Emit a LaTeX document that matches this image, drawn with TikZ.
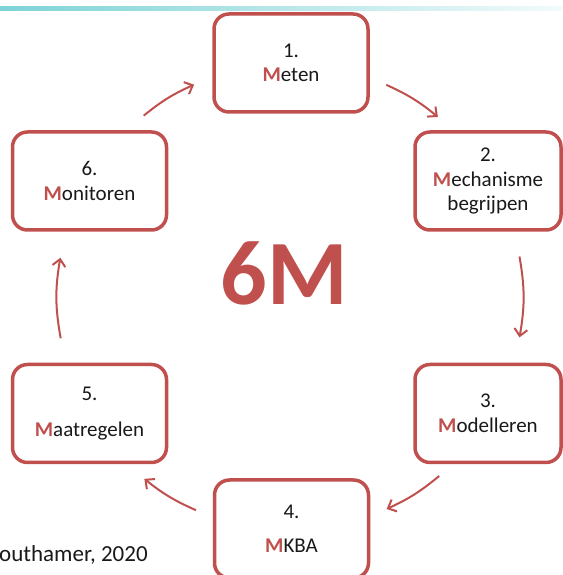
\documentclass[tikz,border=0pt]{standalone}
\usepackage{fontspec}
\setmainfont{Carlito}
\usetikzlibrary{arrows.meta}
\definecolor{accent}{HTML}{C0504D}
\definecolor{barteal}{HTML}{7DD3D6}
\newcommand\redM{\textcolor{accent}{\bfseries M}}
\begin{document}
\begin{tikzpicture}[x=1pt,y=1pt,
  stage/.style={draw=accent, line width=3.5pt, rounded corners=15pt, fill=white,
    minimum width=154pt, minimum height=98pt, align=center, inner sep=0pt,
    font=\fontsize{21}{24.5}\selectfont, text=black!90},
  cyc/.style={draw=accent, line width=2pt,
    -{Straight Barb[length=7pt,width=13pt,line width=2pt]}}]
\useasboundingbox (0,0) rectangle (562,575);
\shade[left color=barteal, right color=barteal!10] (0,564) rectangle (562,568);
% stages
\node[stage] (m1) at (291,512) {1.\\\redM eten};
\node[stage, minimum width=146pt] (m2) at (488,394) {2.\\\redM echanisme\\begrijpen};
\node[stage, minimum width=146pt] (m3) at (488,161.5) {3.\\\redM odelleren};
\node[stage] (m4) at (291.5,46) {4.\\[9pt]\redM KBA};
\node[stage] (m5) at (89.5,161.5) {5.\\[11pt]\redM aatregelen};
\node[stage] (m6) at (89.5,394) {6.\\\redM onitoren};
% centre label
\node[font=\fontsize{92}{92}\selectfont\bfseries, text=accent, inner sep=0pt] (six) at (284,302) {6M};
% cycle arrows
\coordinate (c) at (290,278);
\path (c) ++(65.6:233) coordinate (a1s) (c) ++(50.6:233) coordinate (a1e);
\path (c) ++(10:233) coordinate (a2s) (c) ++(-10:233) coordinate (a2e);
\path (c) ++(-50.2:233) coordinate (a3s) (c) ++(-65.5:233) coordinate (a3e);
\path (c) ++(-113.8:233) coordinate (a4s) (c) ++(-128.7:233) coordinate (a4e);
\path (c) ++(190.2:233) coordinate (a5s) (c) ++(170.3:233) coordinate (a5e);
\path (c) ++(128.9:233) coordinate (a6s) (c) ++(114.3:233) coordinate (a6e);
\draw[cyc] (a1s) to[bend left=7.5] (a1e);
\draw[cyc] (a2s) to[bend left=10] (a2e);
\draw[cyc] (a3s) to[bend left=7.5] (a3e);
\draw[cyc] (a4s) to[bend left=7.5] (a4e);
\draw[cyc] (a5s) to[bend left=10] (a5e);
\draw[cyc] (a6s) to[bend left=7.5] (a6e);
% source
\node[anchor=base west, inner sep=0pt, font=\fontsize{23}{27}\selectfont, text=black!90] (src) at (-1,13) {outhamer, 2020};
\end{tikzpicture}
\end{document}
